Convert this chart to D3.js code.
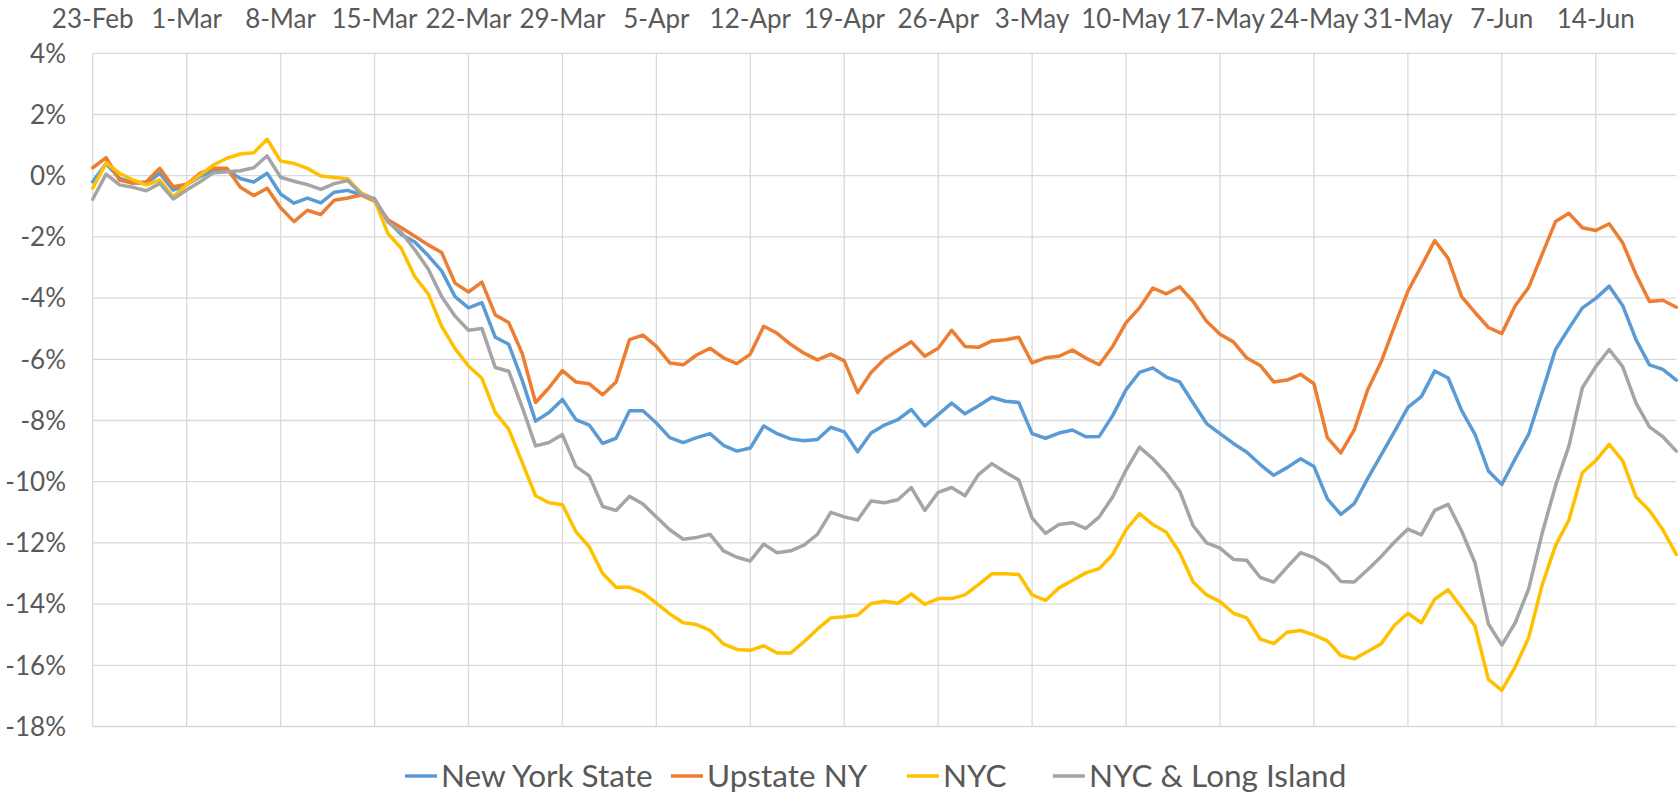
<!DOCTYPE html>
<html>
<head>
<meta charset="utf-8">
<script src="https://cdn.jsdelivr.net/npm/d3@7"></script>
<style>
  body { margin: 0; background: #fff; }
  svg text { font-family: Lato, "Open Sans", sans-serif; fill: #595959; }
</style>
</head>
<body>
<svg id="chart" width="1679" height="793"></svg>
<script>
// days since 23-Feb (one point per day)
var startDate = new Date(2020, 1, 23);
var tickLabels = ["23-Feb", "1-Mar", "8-Mar", "15-Mar", "22-Mar", "29-Mar", "5-Apr", "12-Apr",
    "19-Apr", "26-Apr", "3-May", "10-May", "17-May", "24-May", "31-May", "7-Jun", "14-Jun"];
var yTicks = [4, 2, 0, -2, -4, -6, -8, -10, -12, -14, -16, -18];
var seriesNames = ["New York State", "Upstate NY", "NYC", "NYC & Long Island"];

var newYorkState = [-0.2, 0.4, -0.09, -0.23, -0.25, 0.08, -0.47, -0.3, -0.03, 0.18, 0.18, -0.09, -0.21, 0.08,
    -0.6, -0.9, -0.73, -0.89, -0.54, -0.48, -0.63, -0.76, -1.48, -1.92, -2.17, -2.61, -3.11, -3.95, -4.32,
    -4.15, -5.28, -5.51, -6.68, -8.02, -7.74, -7.31, -7.97, -8.15, -8.75, -8.58, -7.68, -7.68, -8.08, -8.56,
    -8.72, -8.56, -8.43, -8.81, -9.0, -8.9, -8.18, -8.43, -8.6, -8.66, -8.62, -8.22, -8.37, -9.02, -8.41,
    -8.15, -7.97, -7.64, -8.18, -7.81, -7.43, -7.78, -7.52, -7.24, -7.37, -7.41, -8.43, -8.58, -8.41, -8.31,
    -8.53, -8.52, -7.84, -6.99, -6.43, -6.28, -6.58, -6.74, -7.43, -8.1, -8.43, -8.75, -9.04, -9.44, -9.79,
    -9.54, -9.25, -9.5, -10.56, -11.07, -10.72, -9.9, -9.13, -8.36, -7.57, -7.22, -6.38, -6.61, -7.67, -8.45,
    -9.65, -10.09, -9.25, -8.45, -7.08, -5.68, -4.99, -4.32, -4.01, -3.61, -4.24, -5.36, -6.18, -6.33, -6.68];

var upstateNY = [0.26, 0.59, -0.14, -0.25, -0.2, 0.24, -0.36, -0.28, 0.08, 0.24, 0.24, -0.38, -0.65, -0.41,
    -1.05, -1.5, -1.13, -1.27, -0.8, -0.73, -0.63, -0.83, -1.44, -1.7, -1.98, -2.26, -2.51, -3.51, -3.8,
    -3.48, -4.55, -4.8, -5.8, -7.41, -6.93, -6.37, -6.74, -6.8, -7.16, -6.74, -5.36, -5.21, -5.58, -6.12,
    -6.18, -5.86, -5.64, -5.95, -6.14, -5.83, -4.92, -5.15, -5.51, -5.8, -6.02, -5.83, -6.05, -7.09, -6.43,
    -5.99, -5.7, -5.43, -5.9, -5.64, -5.05, -5.58, -5.61, -5.4, -5.36, -5.28, -6.12, -5.95, -5.9, -5.7,
    -5.96, -6.18, -5.58, -4.8, -4.32, -3.67, -3.86, -3.63, -4.11, -4.76, -5.18, -5.43, -5.96, -6.2, -6.74,
    -6.68, -6.49, -6.8, -8.56, -9.06, -8.31, -7.0, -6.09, -4.92, -3.77, -2.96, -2.12, -2.7, -3.95, -4.47,
    -4.96, -5.16, -4.25, -3.65, -2.57, -1.5, -1.23, -1.7, -1.79, -1.57, -2.19, -3.23, -4.11, -4.07, -4.3];

var nyc = [-0.41, 0.42, 0.08, -0.14, -0.3, -0.14, -0.69, -0.3, 0.02, 0.35, 0.57, 0.71, 0.75, 1.19,
    0.48, 0.4, 0.24, -0.01, -0.06, -0.1, -0.56, -0.79, -1.89, -2.38, -3.3, -3.86, -4.92, -5.65, -6.22,
    -6.62, -7.74, -8.28, -9.37, -10.46, -10.69, -10.75, -11.63, -12.13, -13.0, -13.45, -13.45, -13.63, -13.97, -14.32,
    -14.61, -14.67, -14.86, -15.3, -15.48, -15.51, -15.36, -15.6, -15.6, -15.23, -14.82, -14.45, -14.41, -14.36, -13.98,
    -13.91, -13.97, -13.67, -14.01, -13.82, -13.82, -13.7, -13.36, -13.01, -13.01, -13.03, -13.7, -13.88, -13.47, -13.23,
    -12.98, -12.84, -12.38, -11.57, -11.04, -11.4, -11.65, -12.32, -13.28, -13.7, -13.92, -14.3, -14.45, -15.14, -15.29,
    -14.92, -14.86, -15.01, -15.2, -15.68, -15.79, -15.55, -15.3, -14.69, -14.3, -14.61, -13.84, -13.53, -14.11, -14.72,
    -16.46, -16.82, -16.05, -15.1, -13.38, -12.09, -11.25, -9.71, -9.31, -8.78, -9.31, -10.5, -10.94, -11.57, -12.38];

var nycLongIsland = [-0.77, 0.05, -0.3, -0.38, -0.49, -0.25, -0.76, -0.47, -0.2, 0.1, 0.13, 0.16, 0.26, 0.65,
    -0.05, -0.18, -0.29, -0.45, -0.26, -0.16, -0.6, -0.75, -1.52, -1.85, -2.42, -3.05, -3.95, -4.59, -5.05,
    -4.99, -6.27, -6.39, -7.56, -8.83, -8.72, -8.46, -9.5, -9.81, -10.81, -10.94, -10.48, -10.73, -11.15, -11.57,
    -11.88, -11.82, -11.72, -12.26, -12.47, -12.59, -12.04, -12.32, -12.26, -12.07, -11.72, -11.0, -11.15, -11.25, -10.63,
    -10.69, -10.59, -10.19, -10.94, -10.35, -10.19, -10.46, -9.77, -9.41, -9.69, -9.94, -11.19, -11.69, -11.4, -11.34,
    -11.53, -11.15, -10.5, -9.62, -8.87, -9.25, -9.72, -10.31, -11.44, -12.0, -12.17, -12.54, -12.57, -13.13, -13.28,
    -12.79, -12.32, -12.48, -12.76, -13.26, -13.28, -12.88, -12.45, -11.97, -11.55, -11.74, -10.94, -10.74, -11.61, -12.65,
    -14.65, -15.34, -14.61, -13.5, -11.69, -10.13, -8.83, -6.93, -6.24, -5.68, -6.24, -7.43, -8.21, -8.53, -9.0];

var seriesValues = [newYorkState, upstateNY, nyc, nycLongIsland];
var seriesColors = ["#5B9BD5", "#ED7D31", "#FFC000", "#A5A5A5"];

var svg = d3.select("#chart");

var plotLeft = 92.7, plotRight = 1676.3, plotTop = 53.3, plotBottom = 726.5;

var dates = newYorkState.map(function (d, i) { return d3.timeDay.offset(startDate, i); });

var xScale = d3.scaleTime()
    .domain([dates[0], dates[dates.length - 1]])
    .range([plotLeft, plotRight]);
var yScale = d3.scaleLinear()
    .domain([-18, 4])
    .range([plotBottom, plotTop]);

var tickDates = tickLabels.map(function (d, i) { return d3.timeDay.offset(startDate, i * 7); });

// horizontal gridlines
svg.append("g")
    .selectAll("line")
    .data(yTicks)
    .enter().append("line")
    .attr("x1", plotLeft)
    .attr("x2", plotRight)
    .attr("y1", function (d) { return yScale(d); })
    .attr("y2", function (d) { return yScale(d); })
    .attr("stroke", "#D9D9D9")
    .attr("stroke-width", 1.3);

// vertical gridlines, one per week
svg.append("g")
    .selectAll("line")
    .data(tickDates)
    .enter().append("line")
    .attr("x1", function (d) { return xScale(d); })
    .attr("x2", function (d) { return xScale(d); })
    .attr("y1", plotTop)
    .attr("y2", plotBottom)
    .attr("stroke", "#D9D9D9")
    .attr("stroke-width", 1.3);

// x labels at the top
svg.append("g")
    .selectAll("text")
    .data(tickDates)
    .enter().append("text")
    .attr("x", function (d) { return xScale(d); })
    .attr("y", 28)
    .attr("text-anchor", "middle")
    .attr("font-size", "26px")
    .text(function (d, i) { return tickLabels[i]; });

// y labels
svg.append("g")
    .selectAll("text")
    .data(yTicks)
    .enter().append("text")
    .attr("x", 66)
    .attr("y", function (d) { return yScale(d); })
    .attr("dy", "0.36em")
    .attr("text-anchor", "end")
    .attr("font-size", "26px")
    .text(function (d) { return d + "%"; });

var line = d3.line()
    .x(function (d, i) { return xScale(dates[i]); })
    .y(function (d) { return yScale(d); });

svg.append("g")
    .selectAll("path")
    .data(seriesValues)
    .enter().append("path")
    .attr("d", line)
    .attr("fill", "none")
    .attr("stroke", function (d, i) { return seriesColors[i]; })
    .attr("stroke-width", 3.5)
    .attr("stroke-linejoin", "round")
    .attr("stroke-linecap", "round");

// legend: the entries start where excel put them
var legendX = [405, 671, 907, 1053];
var items = svg.append("g")
    .attr("transform", "translate(0,776)")
    .selectAll("g")
    .data(seriesNames)
    .enter().append("g")
    .attr("transform", function (d, i) { return "translate(" + legendX[i] + ",0)"; });
items.append("line")
    .attr("x1", 0).attr("x2", 32)
    .attr("y1", 0).attr("y2", 0)
    .attr("stroke", function (d, i) { return seriesColors[i]; })
    .attr("stroke-width", 3.5);
items.append("text")
    .attr("x", 36)
    .attr("dy", "0.36em")
    .attr("font-size", "31.5px")
    .text(function (d) { return d; });
</script>
</body>
</html>
